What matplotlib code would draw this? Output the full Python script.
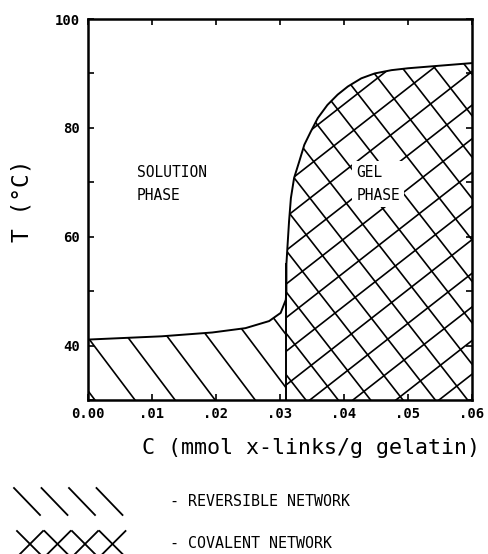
import numpy as np
import matplotlib
matplotlib.use("Agg")
import matplotlib.pyplot as plt
from matplotlib.patches import Polygon
from matplotlib.ticker import MultipleLocator, FixedLocator

# phase boundary
c_rev = [0.000, 0.0115, 0.0194, 0.0246, 0.0283, 0.0301, 0.0309, 0.031]
t_rev = [41.1, 41.7, 42.4, 43.2, 44.5, 46.0, 48.4, 50.0]

c_cov = [0.031, 0.031, 0.03115, 0.03141, 0.0317, 0.0322, 0.0330, 0.0338,
         0.0348, 0.0359, 0.0374, 0.0390, 0.0406, 0.0427, 0.0448, 0.0474,
         0.0500, 0.0600]
t_cov = [50.0, 55.0, 57.9, 62.8, 67.1, 70.8, 73.8, 76.9,
         79.3, 81.8, 84.2, 86.1, 87.6, 89.1, 90.0, 90.6,
         90.95, 91.9]

x_ticks = [0.00, 0.01, 0.02, 0.03, 0.04, 0.05, 0.06]
x_labels = ["0.00", ".01", ".02", ".03", ".04", ".05", ".06"]
y_ticks = [40, 60, 80, 100]
t_min, t_max = 30, 100

plt.rcParams["font.family"] = "DejaVu Sans Mono"

fig = plt.figure(figsize=(4.88, 5.54), dpi=100)
ax = fig.add_axes([0.1803, 0.278, 0.787, 0.6877])
ax.set_xlim(0, 0.06)
ax.set_ylim(t_min, t_max)

# regions
rev_poly = Polygon(list(zip([c_rev[0]] + c_rev + [c_rev[-1]],
                            [t_min] + t_rev + [t_min])),
                   closed=True, facecolor="none", edgecolor="none")
cov_poly = Polygon(list(zip([c_cov[0]] + c_cov + [c_cov[-1]],
                            [t_min] + t_cov + [t_min])),
                   closed=True, facecolor="none", edgecolor="none")
ax.add_patch(rev_poly)
ax.add_patch(cov_poly)

W = 0.787 * 488
H = 0.6877 * 554


def hatch(ax, patch, angle, spacing, x0, y0, lw=1.2):
    # sparse hatch lines (pixel geometry), clipped to a patch
    a = np.deg2rad(angle)
    u = np.array([np.cos(a), np.sin(a)])
    n = np.array([-np.sin(a), np.cos(a)])
    base = n @ np.array([x0, y0])
    for k in range(-40, 41):
        p = (base + k * spacing) * n
        p1 = p - 800 * u
        p2 = p + 800 * u
        ln, = ax.plot([p1[0] / W, p2[0] / W], [p1[1] / H, p2[1] / H],
                      color="black", lw=lw, transform=ax.transAxes)
        ln.set_clip_path(patch)


hatch(ax, rev_poly, -53, 32, 47, 0)
hatch(ax, cov_poly, -52, 25.5, 199, 107)
hatch(ax, cov_poly, 38, 26.5, 199, 83)

# boundary lines
ax.plot(c_rev + c_cov[1:], t_rev + t_cov[1:], color="black", lw=1.4)
ax.plot([c_cov[0], c_cov[0]], [t_min, t_cov[1]], color="black", lw=1.4)

for s in ax.spines.values():
    s.set_linewidth(1.8)

ax.xaxis.set_major_locator(FixedLocator(x_ticks))
ax.set_xticklabels(x_labels)
ax.yaxis.set_major_locator(FixedLocator(y_ticks))
ax.yaxis.set_minor_locator(MultipleLocator(10))
ax.tick_params(which="both", direction="in", top=True, right=True,
               length=4, width=1.2)
ax.tick_params(axis="x", pad=5, labelsize=10)
ax.tick_params(axis="y", pad=6, labelsize=10)
for lab in ax.get_xticklabels() + ax.get_yticklabels():
    lab.set_fontweight("bold")

ax.set_xlabel("C (mmol x-links/g gelatin)", fontsize=15.6, va="center")
ax.xaxis.set_label_coords(0.58, -0.126)
ax.set_ylabel("T (\u00b0C)", fontsize=16.5, va="center")
ax.yaxis.set_label_coords(-0.172, 0.522)

ax.text(0.0076, 73.2, "SOLUTION\nPHASE", fontsize=10.5, va="top", ha="left",
        linespacing=1.7)
ax.text(0.0419, 73.2, "GEL\nPHASE", fontsize=10.5, va="top", ha="left",
        linespacing=1.7,
        bbox=dict(facecolor="white", edgecolor="none", pad=3))

# legend drawn in figure pixel space
lg = fig.add_axes([0, 0, 1, 1])
lg.set_xlim(0, 488)
lg.set_ylim(554, 0)
lg.axis("off")
lg.patch.set_alpha(0)
for i in range(4):
    x = 14 + 27.5 * i
    lg.plot([x, x + 26], [488, 515], color="black", lw=1.3)
    lg.plot([x + 3, x + 29], [531, 557], color="black", lw=1.3)
    lg.plot([x + 29, x + 3], [531, 557], color="black", lw=1.3)
lg.text(170, 501, "- REVERSIBLE NETWORK", fontsize=10.8, va="center")
lg.text(170, 543, "- COVALENT NETWORK", fontsize=10.8, va="center")

fig.savefig("out.png", dpi=100)
